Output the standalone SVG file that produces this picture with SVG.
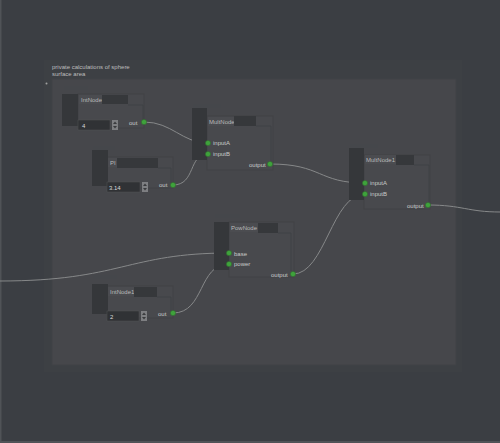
<svg xmlns="http://www.w3.org/2000/svg" width="500" height="443" viewBox="0 0 500 443">
<style>
text{font-family:"Liberation Sans","DejaVu Sans",sans-serif;}
.tab{fill:#35373a;}
.hdr{fill:#45474b;}
.body{fill:#48494d;stroke:#404144;stroke-width:0.8;}
.frame{fill:none;stroke:#3e3f42;stroke-width:0.7;}
.lbl{fill:#4b4c50;}
.dark{fill:#36383b;}
.field{fill:#303235;stroke:#525356;stroke-width:0.5;}
.spin{fill:#7e7f82;}
.arr{fill:#3a3b3e;}
.title{font-size:6px;fill:#b9b9b9;}
.port-t{font-size:6px;fill:#c9c9c9;}
.val{font-size:6px;fill:#d8d8d8;}
.port{fill:#3fa23c;stroke:#2e6b2b;stroke-width:0.5;}
.edge{fill:none;stroke:#868889;stroke-width:1;}
.gtitle{font-size:6px;fill:#bdbdbd;}
</style>
<rect width="500" height="443" fill="#3b3e43"/>
<rect x="44" y="60" width="418" height="312" fill="#3d4044"/>
<rect x="0" y="0" width="1.5" height="443" fill="#505357"/>
<rect x="0" y="441" width="500" height="2" fill="#505357"/>
<g id="group">
<rect x="52" y="79" width="404" height="286" fill="#46474b" stroke="#414246" stroke-width="1"/>
<text class="gtitle" x="52" y="69">private calculations of sphere</text>
<text class="gtitle" x="52" y="76">surface area</text>
<circle cx="46.5" cy="83.5" r="1" fill="#a0a0a0"/>
</g>
<g id="connectors">
<path class="edge" d="M144,122 C172,122 182,143 208,143"/>
<path class="edge" d="M173,185 C196,185 188,154 208,154"/>
<path class="edge" d="M270,164 C322,164 318,183 365,183"/>
<path class="edge" d="M293,274 C325,274 332,194 365,194"/>
<path class="edge" d="M0,281 C120,281 128,253 229,253"/>
<path class="edge" d="M173,313 C205,313 198,264 229,264"/>
<path class="edge" d="M428,205 C462,205 468,212 500,212"/>
</g>
<g id="IntNode">
<rect class="hdr" x="64" y="86" width="24" height="4"/>
<rect class="body" x="78" y="94" width="66" height="34"/>
<path class="frame" d="M128,105 H143 V121"/>
<rect class="tab" x="62" y="94" width="16" height="32"/>
<rect class="lbl" x="79" y="95" width="23" height="9"/>
<text class="title" x="81" y="101.5">IntNode</text>
<rect class="dark" x="102" y="95" width="26" height="9"/>
<rect class="field" x="78" y="120" width="32" height="10"/>
<text class="val" x="82" y="127.5">4</text>
<rect class="spin" x="112" y="120" width="6" height="10"/>
<path class="arr" d="M113,124 L115,121.5 L117,124 Z M113,126 L117,126 L115,128.5 Z"/>
<text class="port-t" x="129" y="125">out</text>
<circle class="port" cx="144" cy="122" r="2.6"/>
</g>
<g id="PI">
<rect class="hdr" x="93" y="146" width="22" height="4"/>
<rect class="body" x="107" y="157" width="66" height="31"/>
<path class="frame" d="M158,168 H171 V183"/>
<rect class="tab" x="92" y="150" width="16" height="36"/>
<rect class="lbl" x="108" y="158" width="9" height="9"/>
<text class="title" x="110" y="164.5">PI</text>
<rect class="dark" x="117" y="158" width="41" height="10"/>
<rect class="field" x="107" y="182" width="33" height="10"/>
<text class="val" x="109" y="189.5">3.14</text>
<rect class="spin" x="142" y="182" width="6" height="10"/>
<path class="arr" d="M143,186 L145,183.5 L147,186 Z M143,188 L147,188 L145,190.5 Z"/>
<text class="port-t" x="159" y="187">out</text>
<circle class="port" cx="173" cy="185" r="2.6"/>
</g>
<g id="IntNode1">
<rect class="hdr" x="93" y="275" width="24" height="4"/>
<rect class="body" x="107" y="286" width="66" height="32"/>
<path class="frame" d="M157,297 H171 V311"/>
<rect class="tab" x="92" y="284" width="16" height="30"/>
<rect class="lbl" x="108" y="287" width="26" height="9"/>
<text class="title" x="110" y="293.5">IntNode1</text>
<rect class="dark" x="134" y="287" width="23" height="10"/>
<rect class="field" x="107" y="311" width="32" height="10"/>
<text class="val" x="110" y="318.5">2</text>
<rect class="spin" x="141" y="311" width="6" height="10"/>
<path class="arr" d="M142,315 L144,312.5 L146,315 Z M142,317 L146,317 L144,319.5 Z"/>
<text class="port-t" x="158" y="315.5">out</text>
<circle class="port" cx="173" cy="313" r="2.6"/>
</g>
<g id="MultNode">
<rect class="hdr" x="193" y="104" width="28" height="4"/>
<rect class="body" x="207" y="116" width="66" height="54"/>
<path class="frame" d="M256,126 H271 V162"/>
<rect class="tab" x="192" y="108" width="15" height="52"/>
<rect class="lbl" x="208" y="117" width="26" height="9"/>
<text class="title" x="209" y="123.5">MultNode</text>
<rect class="dark" x="234" y="116" width="22" height="10"/>
<text class="port-t" x="213" y="145">inputA</text>
<text class="port-t" x="213" y="156">inputB</text>
<text class="port-t" x="249" y="167">output</text>
<circle class="port" cx="208" cy="143" r="2.6"/>
<circle class="port" cx="208" cy="154" r="2.6"/>
<circle class="port" cx="270" cy="164" r="2.6"/>
</g>
<g id="MultNode1">
<rect class="hdr" x="350" y="144" width="28" height="4"/>
<rect class="body" x="364" y="155" width="66" height="54"/>
<path class="frame" d="M414,165 H429 V202"/>
<rect class="tab" x="349" y="148" width="15" height="52"/>
<rect class="lbl" x="365" y="155" width="31" height="9"/>
<text class="title" x="366" y="161.5">MultNode1</text>
<rect class="dark" x="396" y="155" width="18" height="10"/>
<text class="port-t" x="370" y="185">inputA</text>
<text class="port-t" x="370" y="196">inputB</text>
<text class="port-t" x="407" y="208">output</text>
<circle class="port" cx="365" cy="183" r="2.6"/>
<circle class="port" cx="365" cy="194" r="2.6"/>
<circle class="port" cx="428" cy="205" r="2.6"/>
</g>
<g id="PowNode">
<rect class="hdr" x="215" y="214" width="25" height="4"/>
<rect class="body" x="229" y="222" width="65" height="55"/>
<path class="frame" d="M278,233 H291 V271"/>
<rect class="tab" x="214" y="222" width="15" height="48"/>
<rect class="lbl" x="230" y="223" width="28" height="9"/>
<text class="title" x="231" y="229.5">PowNode</text>
<rect class="dark" x="258" y="223" width="20" height="10"/>
<text class="port-t" x="234" y="255.5">base</text>
<text class="port-t" x="234" y="266">power</text>
<text class="port-t" x="271" y="277">output</text>
<circle class="port" cx="229" cy="253" r="2.6"/>
<circle class="port" cx="229" cy="264" r="2.6"/>
<circle class="port" cx="293" cy="274" r="2.6"/>
</g>
</svg>
